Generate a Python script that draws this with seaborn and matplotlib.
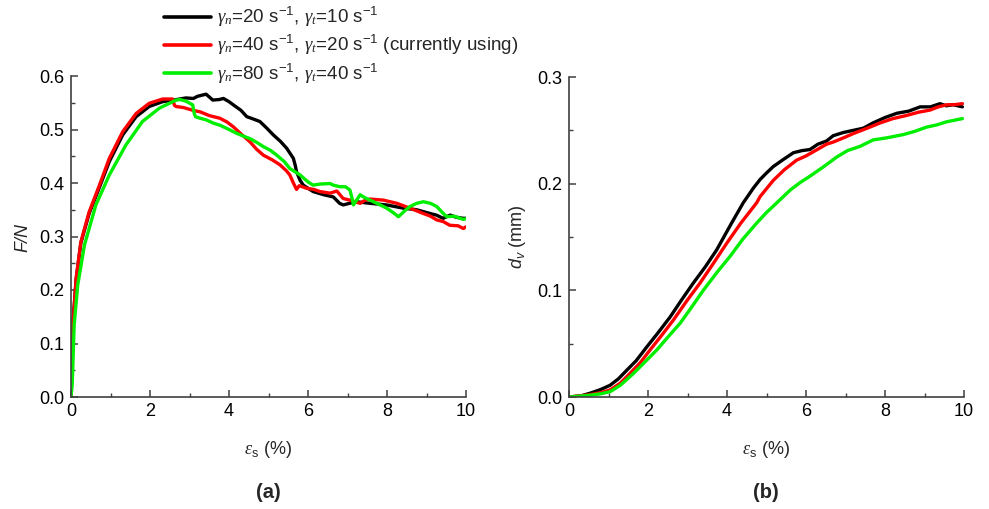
import numpy as np
import pandas as pd
import matplotlib
matplotlib.use("Agg")
import matplotlib.pyplot as plt
import seaborn as sns

# ---------------- data ----------------
series_labels = [
    r"$\mathsf{\gamma_n}$=20 s$^{\mathrm{-1}}$, $\mathsf{\gamma_t}$=10 s$^{\mathrm{-1}}$",
    r"$\mathsf{\gamma_n}$=40 s$^{\mathrm{-1}}$, $\mathsf{\gamma_t}$=20 s$^{\mathrm{-1}}$ (currently using)",
    r"$\mathsf{\gamma_n}$=80 s$^{\mathrm{-1}}$, $\mathsf{\gamma_t}$=40 s$^{\mathrm{-1}}$",
]
series_colors = ["#000000", "#ff0000", "#00ee00"]

# (a) F/N vs strain
a_black_x = [0, 0.03, 0.06, 0.13, 0.25, 0.46, 0.72, 0.97, 1.31, 1.65, 1.98, 2.32, 2.6, 2.91, 3.1, 3.2,
             3.42, 3.59, 3.75, 3.86, 4.0, 4.11, 4.3, 4.45, 4.6, 4.78, 4.95, 5.12, 5.3, 5.46, 5.63, 5.68,
             5.71, 5.8, 5.88, 6.13, 6.4, 6.64, 6.8, 6.89, 7.05, 7.23, 7.57, 7.99, 8.41, 8.75, 9.09,
             9.25, 9.42, 9.6, 9.75, 9.93, 10.0]
a_black_y = [0.0, 0.08, 0.15, 0.22, 0.288, 0.343, 0.392, 0.440, 0.490, 0.524, 0.543, 0.552, 0.555, 0.559,
             0.558, 0.562, 0.566, 0.555, 0.556, 0.558, 0.552, 0.546, 0.536, 0.524, 0.520, 0.515, 0.503,
             0.490, 0.478, 0.465, 0.446, 0.432, 0.421, 0.405, 0.396, 0.384, 0.378, 0.374, 0.362, 0.359,
             0.362, 0.365, 0.362, 0.359, 0.353, 0.350, 0.343, 0.340, 0.334, 0.340, 0.336, 0.334, 0.334]

a_red_x = [0, 0.02, 0.04, 0.13, 0.25, 0.46, 0.72, 0.97, 1.31, 1.65, 1.98, 2.32, 2.57, 2.62, 2.66, 2.85,
           3.08, 3.27, 3.5, 3.77, 3.95, 4.11, 4.3, 4.53, 4.7, 4.87, 5.1, 5.29, 5.45, 5.54, 5.63, 5.71,
           5.78, 5.97, 6.15, 6.3, 6.56, 6.73, 6.89, 7.06, 7.32, 7.45, 7.57, 7.91, 8.25, 8.58, 8.92,
           9.1, 9.26, 9.42, 9.59, 9.8, 9.93, 10.0]
a_red_y = [0.0, 0.08, 0.122, 0.222, 0.290, 0.346, 0.396, 0.446, 0.496, 0.530, 0.549, 0.557, 0.557, 0.545,
           0.543, 0.541, 0.536, 0.533, 0.526, 0.521, 0.514, 0.505, 0.492, 0.477, 0.463, 0.452, 0.443,
           0.434, 0.423, 0.415, 0.400, 0.388, 0.395, 0.390, 0.388, 0.384, 0.381, 0.385, 0.371, 0.368,
           0.362, 0.368, 0.370, 0.368, 0.362, 0.353, 0.343, 0.338, 0.331, 0.328, 0.321, 0.320, 0.315, 0.318]

a_green_x = [0, 0.03, 0.08, 0.17, 0.34, 0.63, 0.97, 1.39, 1.81, 2.24, 2.66, 2.76, 2.91, 3.08, 3.12, 3.15,
             3.27, 3.42, 3.6, 3.77, 4.0, 4.19, 4.35, 4.53, 4.7, 4.87, 5.05, 5.21, 5.4, 5.54, 5.65, 5.8,
             6.0, 6.13, 6.3, 6.56, 6.64, 6.81, 6.95, 7.06, 7.12, 7.15, 7.32, 7.45, 7.57, 7.8, 7.99, 8.15,
             8.29, 8.45, 8.58, 8.75, 8.92, 9.1, 9.26, 9.4, 9.51, 9.7, 9.93, 10.0]
a_green_y = [0.0, 0.022, 0.135, 0.209, 0.284, 0.359, 0.415, 0.471, 0.515, 0.540, 0.555, 0.556, 0.553,
             0.546, 0.530, 0.524, 0.521, 0.518, 0.512, 0.508, 0.500, 0.493, 0.488, 0.483, 0.476, 0.468,
             0.461, 0.452, 0.440, 0.427, 0.422, 0.415, 0.402, 0.396, 0.398, 0.399, 0.396, 0.393, 0.393,
             0.387, 0.370, 0.359, 0.378, 0.372, 0.368, 0.360, 0.353, 0.345, 0.337, 0.348, 0.356, 0.362,
             0.365, 0.362, 0.356, 0.345, 0.337, 0.338, 0.332, 0.333]

# (b) d_v vs strain
b_black_x = [0, 0.3, 0.53, 0.8, 1.04, 1.25, 1.46, 1.7, 1.97, 2.25, 2.56, 2.85, 3.15, 3.45, 3.74, 4.1,
             4.41, 4.67, 4.84, 5.0, 5.17, 5.4, 5.68, 5.9, 6.10, 6.3, 6.52, 6.69, 6.95, 7.20, 7.45, 7.70,
             8.0, 8.30, 8.6, 8.89, 9.15, 9.39, 9.55, 9.73, 9.96]
b_black_y = [0, 0.001, 0.0035, 0.007, 0.011, 0.017, 0.025, 0.034, 0.047, 0.060, 0.075, 0.091, 0.107,
             0.122, 0.138, 0.162, 0.182, 0.196, 0.204, 0.210, 0.216, 0.222, 0.229, 0.231, 0.232, 0.237,
             0.240, 0.245, 0.248, 0.250, 0.252, 0.257, 0.262, 0.266, 0.268, 0.272, 0.272, 0.275, 0.273,
             0.274, 0.272]

b_red_x = [0, 0.5, 0.8, 1.04, 1.3, 1.54, 1.8, 2.05, 2.35, 2.64, 2.98, 3.32, 3.65, 3.99, 4.35, 4.75,
           4.84, 5.17, 5.45, 5.76, 6.0, 6.19, 6.52, 6.69, 6.95, 7.20, 7.55, 7.88, 8.2, 8.55, 8.85, 9.14,
           9.35, 9.56, 9.75, 9.96]
b_red_y = [0, 0.002, 0.004, 0.0066, 0.013, 0.022, 0.032, 0.044, 0.058, 0.072, 0.090, 0.107, 0.125,
           0.144, 0.163, 0.182, 0.188, 0.203, 0.213, 0.222, 0.226, 0.230, 0.237, 0.239, 0.243, 0.247,
           0.252, 0.257, 0.261, 0.264, 0.267, 0.269, 0.272, 0.274, 0.274, 0.275]

b_green_x = [0, 0.5, 0.8, 1.04, 1.3, 1.63, 1.9, 2.22, 2.5, 2.81, 3.1, 3.40, 3.75, 4.08, 4.4, 4.75, 5.0,
             5.26, 5.6, 5.85, 6.10, 6.45, 6.78, 7.05, 7.37, 7.70, 8.05, 8.46, 8.75, 9.05, 9.3, 9.56, 9.96]
b_green_y = [0, 0.0015, 0.003, 0.005, 0.011, 0.022, 0.032, 0.044, 0.056, 0.069, 0.084, 0.100, 0.117,
             0.132, 0.148, 0.163, 0.173, 0.182, 0.194, 0.201, 0.207, 0.216, 0.225, 0.231, 0.235, 0.241,
             0.243, 0.246, 0.249, 0.253, 0.255, 0.258, 0.261]

x_ticks = [0, 2, 4, 6, 8, 10]
a_yticks = [0.0, 0.1, 0.2, 0.3, 0.4, 0.5, 0.6]
b_yticks = [0.0, 0.1, 0.2, 0.3]

# ---------------- styling ----------------
sns.set_theme(style="ticks")
plt.rcParams["font.family"] = ["Liberation Sans", "DejaVu Sans"]
plt.rcParams["mathtext.fontset"] = "custom"
plt.rcParams["mathtext.rm"] = "Liberation Sans"
plt.rcParams["mathtext.it"] = "Liberation Sans:italic"
plt.rcParams["mathtext.sf"] = "Liberation Serif:italic"
plt.rcParams["mathtext.bf"] = "Liberation Sans:bold"

FS = 13
spine_col = "#404040"

def make_df(xs, ys):
    frames = []
    for lab, x, y in zip(series_labels, xs, ys):
        frames.append(pd.DataFrame({"strain": x, "value": y, "series": lab}))
    return pd.concat(frames, ignore_index=True)

df_a = make_df([a_black_x, a_red_x, a_green_x], [a_black_y, a_red_y, a_green_y])
df_b = make_df([b_black_x, b_red_x, b_green_x], [b_black_y, b_red_y, b_green_y])

W, H = 989, 509
fig = plt.figure(figsize=(W / 100, H / 100), dpi=100)
ax_a = fig.add_axes([71 / W, 1 - 397 / H, 395 / W, 321 / H])
ax_b = fig.add_axes([569 / W, 1 - 397 / H, 395 / W, 320 / H])

palette = dict(zip(series_labels, series_colors))
for ax, df in ((ax_a, df_a), (ax_b, df_b)):
    sns.lineplot(data=df, x="strain", y="value", hue="series", hue_order=series_labels,
                 palette=palette, estimator=None, sort=False, linewidth=2.4, ax=ax, legend=False)

def style_axis(ax, yticks, ymax, minor_step):
    ax.set_xlim(0, 10)
    ax.set_ylim(0, ymax)
    ax.set_xticks(x_ticks)
    ax.set_xticks(np.arange(1, 10, 2), minor=True)
    ax.set_yticks(yticks)
    ax.set_yticks(np.arange(minor_step, ymax, 2 * minor_step), minor=True)
    ax.set_xticklabels([str(t) for t in x_ticks])
    ax.set_yticklabels([f"{t:.1f}" for t in yticks])
    for s in ("top", "right"):
        ax.spines[s].set_visible(False)
    for s in ("left", "bottom"):
        ax.spines[s].set_color(spine_col)
        ax.spines[s].set_linewidth(1.2)
    ax.tick_params(which="major", direction="in", length=5, width=1.1, color=spine_col,
                   labelsize=FS, labelcolor="black")
    ax.tick_params(which="minor", direction="in", length=3, width=1.0, color=spine_col)
    ax.tick_params(axis="x", pad=4)
    ax.tick_params(axis="y", pad=5)
    ax.set_xlabel("")
    ax.set_ylabel("")
    ax.set_facecolor("white")

style_axis(ax_a, a_yticks, 0.6, 0.05)
style_axis(ax_b, b_yticks, 0.3, 0.05)

# axis labels
fig.text(268 / W, 1 - 449 / H, r"$\mathsf{\varepsilon}_\mathrm{s}$ (%)", ha="center", va="center", fontsize=FS)
fig.text(766 / W, 1 - 449 / H, r"$\mathsf{\varepsilon}_\mathrm{s}$ (%)", ha="center", va="center", fontsize=FS)
fig.text(23 / W, 1 - 237 / H, "F/N", ha="center", va="center", fontsize=FS, rotation=90, style="italic")
fig.text(517 / W, 1 - 237 / H, r"$d_v$ (mm)", ha="center", va="center", fontsize=FS, rotation=90)
fig.text(268 / W, 1 - 492 / H, "(a)", ha="center", va="center", fontsize=14.5, fontweight="bold")
fig.text(766 / W, 1 - 492 / H, "(b)", ha="center", va="center", fontsize=14.5, fontweight="bold")

# legend
handles = [matplotlib.lines.Line2D([], [], color=c, lw=2.6) for c in series_colors]
fig.legend(handles, series_labels, loc="upper left", bbox_to_anchor=(164 / W, 1 - 5 / H),
           frameon=False, fontsize=13.5, handlelength=2.5, handletextpad=0.35,
           labelspacing=0.22, borderpad=0, borderaxespad=0)

fig.savefig("out.png", dpi=100, facecolor="white")
